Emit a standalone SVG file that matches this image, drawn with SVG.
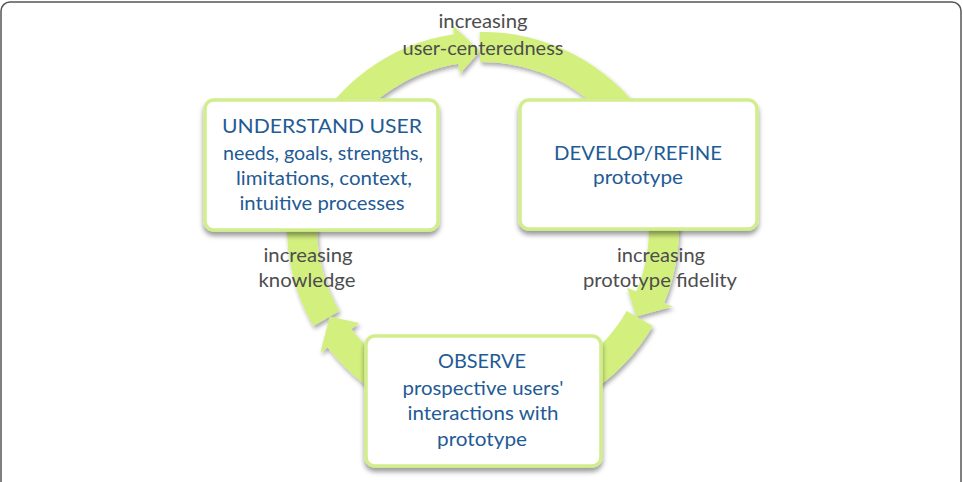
<svg xmlns="http://www.w3.org/2000/svg" width="963" height="482" viewBox="0 0 963 482">
  <defs>
    <filter id="shadow" x="-20%" y="-20%" width="140%" height="150%">
      <feDropShadow dx="1.5" dy="3" stdDeviation="2" flood-color="#000" flood-opacity="0.35"/>
    </filter>
    <filter id="boxshadow" x="-10%" y="-10%" width="120%" height="130%">
      <feDropShadow dx="0" dy="4" stdDeviation="2.5" flood-color="#000" flood-opacity="0.4"/>
    </filter>
  </defs>
  <style>
    .frame { fill: #ffffff; stroke: #555555; stroke-width: 1.5; }
    .arrow { fill: #d3f07f; filter: url(#shadow); }
    .box { fill: #ffffff; stroke: #d2ee8c; stroke-width: 3.5; filter: url(#boxshadow); }
    .node-text { font-family: Lato, "Open Sans", sans-serif; font-size: 20px; fill: #1f5b95; text-anchor: middle; }
    .label { font-family: Lato, "Open Sans", sans-serif; font-size: 20px; fill: #4d4d4d; text-anchor: middle; }
  </style>

  <rect class="frame" x="1" y="2" width="960" height="520" rx="9"/>

  <g id="connectors">
    <path class="arrow" d="M313.26,326 A196,196 0 0 1 454.03,34.15 L452.70,25.25 L479.91,51.03 L459.94,73.71 L458.46,63.82 A166,166 0 0 0 339.24,311 Z"/>
    <path class="arrow" d="M479.58,32.03 A196,196 0 0 1 664.08,303.01 L672.40,306.45 L636.29,316.5 L627.12,287.70 L636.36,291.53 A166,166 0 0 0 480.10,62.03 Z"/>
    <path class="arrow" d="M652.74,326 A196,196 0 0 1 327.50,347.32 L320.36,352.80 L329.71,316.5 L359.24,322.97 L351.30,329.05 A166,166 0 0 0 626.76,311 Z"/>
  </g>

  <g id="node-understand">
    <rect class="box" x="205" y="100" width="233" height="130" rx="9"/>
    <text class="node-text" x="322" y="133" textLength="200" lengthAdjust="spacingAndGlyphs">UNDERSTAND USER</text>
    <text class="node-text" x="323" y="160" textLength="200" lengthAdjust="spacingAndGlyphs">needs, goals, strengths,</text>
    <text class="node-text" x="324" y="185" textLength="176" lengthAdjust="spacingAndGlyphs">limitations, context,</text>
    <text class="node-text" x="322" y="210" textLength="165" lengthAdjust="spacingAndGlyphs">intuitive processes</text>
  </g>

  <g id="node-develop">
    <rect class="box" x="520" y="100" width="237" height="129" rx="9"/>
    <text class="node-text" x="638" y="160" textLength="168" lengthAdjust="spacingAndGlyphs">DEVELOP/REFINE</text>
    <text class="node-text" x="638" y="184" textLength="90" lengthAdjust="spacingAndGlyphs">prototype</text>
  </g>

  <g id="node-observe">
    <rect class="box" x="366" y="336" width="235" height="130" rx="9"/>
    <text class="node-text" x="482" y="368" textLength="88" lengthAdjust="spacingAndGlyphs">OBSERVE</text>
    <text class="node-text" x="483" y="395" textLength="161" lengthAdjust="spacingAndGlyphs">prospective users'</text>
    <text class="node-text" x="483" y="420" textLength="151" lengthAdjust="spacingAndGlyphs">interactions with</text>
    <text class="node-text" x="482" y="446" textLength="90" lengthAdjust="spacingAndGlyphs">prototype</text>
  </g>

  <g id="connector-labels">
    <text class="label" x="483" y="28" textLength="89" lengthAdjust="spacingAndGlyphs">increasing</text>
    <text class="label" x="483" y="55" textLength="161" lengthAdjust="spacingAndGlyphs">user-centeredness</text>
    <text class="label" x="308" y="262" textLength="89" lengthAdjust="spacingAndGlyphs">increasing</text>
    <text class="label" x="307" y="287" textLength="97" lengthAdjust="spacingAndGlyphs">knowledge</text>
    <text class="label" x="661" y="262" textLength="88" lengthAdjust="spacingAndGlyphs">increasing</text>
    <text class="label" x="660" y="287" textLength="154" lengthAdjust="spacingAndGlyphs">prototype fidelity</text>
  </g>
</svg>
